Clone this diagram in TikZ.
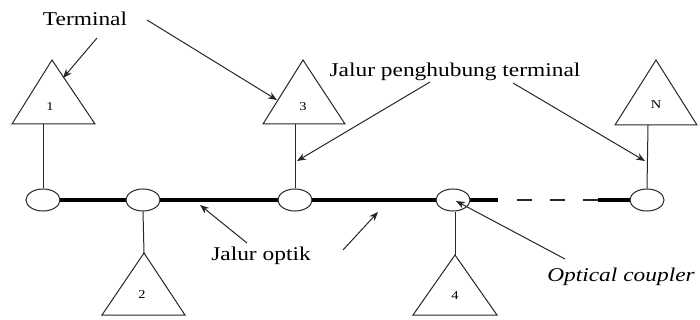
\documentclass[tikz,border=0pt]{standalone}
\usepackage{fontspec}
\setmainfont[FakeStretch=1.2]{Liberation Serif}
\usetikzlibrary{shapes.geometric,arrows.meta}
\begin{document}
\begin{tikzpicture}[x=1pt,y=-1pt,
  ln/.style={line width=1pt,draw=black!85},
  fiber/.style={line width=3.2pt,draw=black},
  coupler/.style={ellipse,draw=black!85,line width=1pt,fill=white,minimum width=34pt,minimum height=22pt,inner sep=0pt},
  term/.style={ln,line join=miter},
  num/.style={font=\fontsize{12}{14}\selectfont,inner sep=0pt},
  lbl/.style={font=\fontsize{19.5}{22}\selectfont,inner sep=0pt},
  ptr/.style={ln,-{Stealth[length=9pt,width=7pt]}}]
\useasboundingbox (0,0) rectangle (700,320);
% couplers
\coordinate (p1) at (43,200);
\coordinate (p2) at (143,200);
\coordinate (p3) at (295,200);
\coordinate (p4) at (453,200);
\coordinate (pN) at (647,200);
\coordinate (f1) at (498,200);
\coordinate (d1) at (517,200);
\coordinate (d2) at (598,200);
% optical fiber (thick)
\draw[fiber] (p1) -- (p2) -- (p3) -- (p4) -- (f1);
\draw[ln,line width=1.6pt,dash pattern=on 15pt off 18pt] (d1) -- (d2);
\draw[fiber] (d2) -- (pN);
\node[coupler] (e1) at (p1) {};
\node[coupler] (e2) at (p2) {};
\node[coupler] (e3) at (p3) {};
\node[coupler] (e4) at (p4) {};
\node[coupler] (eN) at (pN) {};
% terminals (triangles)
\draw[term] (12,124) -- (52,60) -- (95,124) -- cycle;
\draw[term] (263,124) -- (303,60) -- (345,124) -- cycle;
\draw[term] (615,125) -- (656,60) -- (697,125) -- cycle;
\draw[term] (102,315) -- (144,253) -- (185,315) -- cycle;
\draw[term] (413,315) -- (455,255) -- (497,315) -- cycle;
\node[num] (n1) at (50,107) {1};
\node[num] (n3) at (303,107) {3};
\node[num] (nN) at (656,105) {N};
\node[num] (n2) at (142,295) {2};
\node[num] (n4) at (455,296) {4};
% stems
\coordinate (s1) at (43,124);
\coordinate (s3) at (295,124);
\coordinate (sN) at (648,125);
\coordinate (s2) at (144,253);
\coordinate (s4) at (455,255);
\draw[ln] (s1) -- (e1.north);
\draw[ln] (s3) -- (e3.north);
\draw[ln] (sN) -- (eN.north);
\draw[ln] (e2.south) -- (s2);
\draw[ln] (e4.south -| s4) -- (s4);
% labels
\node[lbl] (tTerm) at (85,19) {Terminal};
\node[lbl] (tJal) at (455,72) {Jalur penghubung terminal};
\node[lbl] (tOpt) at (261,256) {Jalur optik};
\node[lbl] (tCoup) at (621,277) {\itshape Optical coupler};
% pointers
\coordinate (a1s) at (97,38);   \coordinate (a1e) at (63,78);
\coordinate (a2s) at (147,20);  \coordinate (a2e) at (277,100);
\coordinate (a3s) at (430,82);  \coordinate (a3e) at (297,161);
\coordinate (a4s) at (513,83);  \coordinate (a4e) at (645,161);
\coordinate (a5s) at (247,243); \coordinate (a5e) at (200,205);
\coordinate (a6s) at (343,250); \coordinate (a6e) at (378,212);
\coordinate (a7s) at (565,259); \coordinate (a7e) at (456,201);
\draw[ptr] (a1s) -- (a1e);
\draw[ptr] (a2s) -- (a2e);
\draw[ptr] (a3s) -- (a3e);
\draw[ptr] (a4s) -- (a4e);
\draw[ptr] (a5s) -- (a5e);
\draw[ptr] (a6s) -- (a6e);
\draw[ptr] (a7s) -- (a7e);
\end{tikzpicture}
\end{document}
